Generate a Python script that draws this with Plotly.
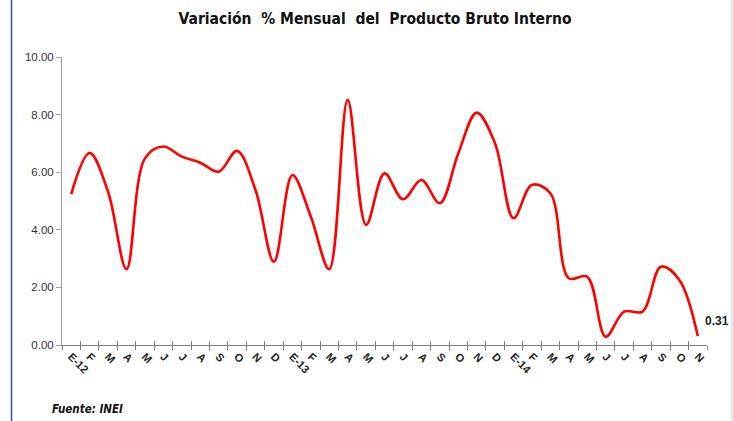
import plotly.graph_objects as go

months = ["E-12", "F", "M", "A", "M", "J", "J", "A", "S", "O", "N", "D",
          "E-13", "F", "M", "A", "M", "J", "J", "A", "S", "O", "N", "D",
          "E-14", "F", "M", "A", "M", "J", "J", "A", "S", "O", "N"]
values = [5.24, 6.67, 5.32, 2.63, 6.48, 6.89, 6.54, 6.33, 6.02, 6.74, 5.38, 2.89,
          5.90, 4.46, 2.63, 8.51, 4.17, 5.96, 5.06, 5.73, 4.92, 6.65, 8.07, 7.00,
          4.40, 5.56, 5.27, 2.32, 2.37, 0.29, 1.16, 1.16, 2.72, 2.26, 0.31]
y_ticks = [0, 2, 4, 6, 8, 10]

x = list(range(len(months)))
bounds = [i - 0.5 for i in range(len(months) + 1)]

L, R, T, B = 62, 26, 57, 76
PW, PH = 733 - L - R, 421 - T - B

fig = go.Figure()
fig.add_trace(go.Scatter(x=x, y=values, mode="lines",
                         line=dict(color="#FF0000", width=2.6, shape="spline", smoothing=1.0),
                         hoverinfo="skip", showlegend=False))
fig.add_trace(go.Scatter(x=[x[0]], y=[values[0]], xaxis="x2", mode="markers",
                         marker=dict(opacity=0), showlegend=False, hoverinfo="skip"))

fig.update_layout(
    width=733, height=421,
    margin=dict(l=L, r=R, t=T, b=B, autoexpand=False),
    paper_bgcolor="white", plot_bgcolor="white",
    title=dict(text="<b>Variación  % Mensual  del  Producto Bruto Interno</b>",
               x=375 / 733, xref="container", xanchor="center", y=1 - 19 / 421, yanchor="middle",
               font=dict(family="DejaVu Sans Condensed, Liberation Sans Narrow, Arial Narrow, sans-serif",
                         size=15.5, color="#111111")),
    xaxis=dict(range=[-0.5, len(months) - 0.5], tickmode="array", tickvals=x,
               ticktext=[f"<b>{m}</b>" for m in months], automargin=False,
               tickangle=45, ticks="", showgrid=False, zeroline=False,
               showline=True, linecolor="#808080", linewidth=1,
               tickfont=dict(family="Liberation Sans, Arial, sans-serif", size=11, color="#222222"),
               minor=dict(tickmode="array", tickvals=bounds, ticks="outside", ticklen=4,
                          tickcolor="#808080", tickwidth=1, showgrid=False)),
    xaxis2=dict(overlaying="x", range=[-0.5, len(months) - 0.5], tickmode="array",
                tickvals=bounds, ticktext=[""] * len(bounds), ticks="inside", ticklen=4,
                tickcolor="#808080", showgrid=False, zeroline=False, showline=False,
                side="bottom", anchor="y", automargin=False),
    yaxis=dict(range=[0, 10], tickmode="array", tickvals=y_ticks, automargin=False,
               ticktext=[f"{v:.2f}" for v in y_ticks], ticks="outside", ticklen=5,
               tickcolor="#A0A0A0", showline=True, linecolor="#A0A0A0", linewidth=1,
               showgrid=False, zeroline=False,
               tickfont=dict(family="Liberation Sans, Arial, sans-serif", size=11.5, color="#333333")),
)

fig.add_annotation(x=x[-1], y=values[-1], text="<b>0.31</b>", showarrow=False,
                   xanchor="left", yanchor="middle", xshift=5, yshift=15,
                   font=dict(family="Liberation Sans, Arial, sans-serif", size=12, color="#222222"))
fig.add_annotation(x=(50 - L) / PW, y=-(409 - (421 - B)) / PH, xref="paper", yref="paper",
                   text="<b><i>Fuente: INEI</i></b>", showarrow=False, xanchor="left", yanchor="middle",
                   font=dict(family="DejaVu Sans Condensed, Liberation Sans Narrow, sans-serif",
                             size=11.5, color="#111111"))

fig.add_shape(type="line", xref="paper", yref="paper",
              x0=(11.5 - L) / PW, x1=(11.5 - L) / PW, y0=-B / PH, y1=(421 - B) / PH,
              line=dict(color="#2F5597", width=1.5))
fig.add_shape(type="line", xref="paper", yref="paper",
              x0=(731.5 - L) / PW, x1=(731.5 - L) / PW, y0=-B / PH, y1=(421 - B) / PH,
              line=dict(color="#E4E6EA", width=2))

fig.write_html("out.html", config={"displayModeBar": False},
               post_script="document.body.style.margin='0';document.body.style.overflow='hidden';")
